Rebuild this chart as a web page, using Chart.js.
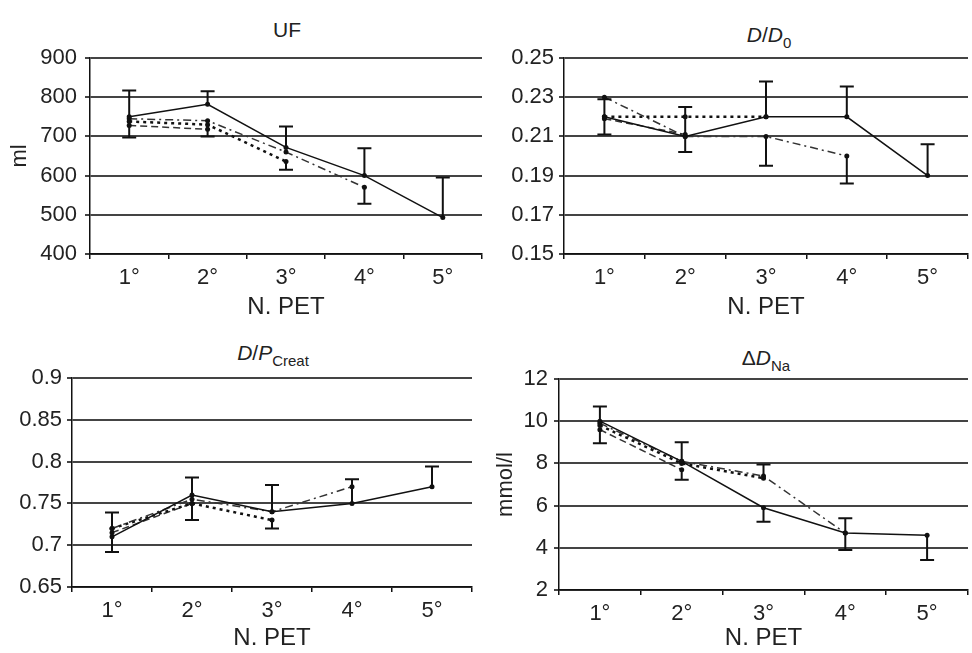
<!DOCTYPE html>
<html>
<head>
<meta charset="utf-8">
<script src="https://cdn.jsdelivr.net/npm/chart.js@4/dist/chart.umd.min.js"></script>
<style>
  body { margin: 0; width: 972px; height: 653px; overflow: hidden; background: #fff; position: relative;
         font-family: "Liberation Sans", Arial, sans-serif; color: #222; }
  canvas { position: absolute; }
  .ttl { position: absolute; font-size: 21px; line-height: 1; transform: translateX(-50%); white-space: nowrap; }
  .ttl sub { font-size: 15px; vertical-align: baseline; position: relative; top: 6px; }
</style>
</head>
<body>
<div class="ttl" style="left:287px; top:19px">UF</div>
<div class="ttl" style="left:769px; top:24px"><i>D</i>/<i>D</i><sub>0</sub></div>
<div class="ttl" style="left:273px; top:342px"><i>D</i>/<i>P</i><sub>Creat</sub></div>
<div class="ttl" style="left:766px; top:347px">&Delta;<i>D</i><sub>Na</sub></div>

<canvas id="uf" width="486" height="326" style="left:0; top:0"></canvas>
<canvas id="dd" width="486" height="326" style="left:486px; top:0"></canvas>
<canvas id="dp" width="486" height="327" style="left:0; top:330px"></canvas>
<canvas id="na" width="486" height="327" style="left:486px; top:330px"></canvas>

<script>
// x categories, same for all 4 panels
var categories = ['1°', '2°', '3°', '4°', '5°'];

// UF (ml) - groups of patients with 5, 4, 3 and 2 PETs
var ufFive  = [750, 782, 672, 600, 493];
var ufFour  = [745, 740, 660, 570, null];
var ufThree = [738, 730, 636, null, null];
var ufTwo   = [728, 718, null, null, null];
var ufTicks = [400, 500, 600, 700, 800, 900];
var ufTickLabels = ['400', '500', '600', '700', '800', '900'];
var ufErrCat  = [0, 0, 1, 1, 2, 2, 3, 3, 4];
var ufErrFrom = [750, 745, 782, 740, 672, 636, 600, 570, 493];
var ufErrTo   = [817, 697, 815, 700, 725, 615, 670, 528, 595];

// D/D0
var ddFive  = [0.22, 0.21, 0.22, 0.22, 0.19];
var ddFour  = [0.23, 0.21, 0.21, 0.20, null];
var ddThree = [0.22, 0.22, 0.22, null, null];
var ddTwo   = [0.219, 0.211, null, null, null];
var ddTicks = [0.15, 0.17, 0.19, 0.21, 0.23, 0.25];
var ddTickLabels = ['0.15', '0.17', '0.19', '0.21', '0.23', '0.25'];
var ddErrCat  = [0, 0, 1, 1, 2, 2, 3, 3, 4];
var ddErrFrom = [0.22, 0.22, 0.21, 0.21, 0.22, 0.21, 0.22, 0.20, 0.19];
var ddErrTo   = [0.229, 0.211, 0.225, 0.202, 0.238, 0.195, 0.2355, 0.186, 0.206];

// D/P creatinine
var dpFive  = [0.71, 0.76, 0.74, 0.75, 0.77];
var dpFour  = [0.72, 0.755, 0.74, 0.77, null];
var dpThree = [0.72, 0.75, 0.73, null, null];
var dpTwo   = [0.715, 0.75, null, null, null];
var dpTicks = [0.65, 0.7, 0.75, 0.8, 0.85, 0.9];
var dpTickLabels = ['0.65', '0.7', '0.75', '0.8', '0.85', '0.9'];
var dpErrCat  = [0, 0, 1, 1, 2, 2, 3, 4];
var dpErrFrom = [0.72, 0.71, 0.76, 0.75, 0.74, 0.73, 0.75, 0.77];
var dpErrTo   = [0.739, 0.692, 0.781, 0.73, 0.772, 0.72, 0.779, 0.794];

// delta D Na (mmol/l)
var naFive  = [10.0, 8.1, 5.9, 4.7, 4.6];
var naFour  = [9.9, 8.1, 7.4, 4.7, null];
var naThree = [9.8, 8.0, 7.3, null, null];
var naTwo   = [9.6, 7.7, null, null, null];
var naTicks = [2, 4, 6, 8, 10, 12];
var naTickLabels = ['2', '4', '6', '8', '10', '12'];
var naErrCat  = [0, 0, 1, 1, 2, 2, 3, 3, 4];
var naErrFrom = [10.0, 9.6, 8.1, 7.7, 7.4, 5.9, 4.7, 4.7, 4.6];
var naErrTo   = [10.7, 8.95, 9.0, 7.22, 7.95, 5.24, 5.4, 3.9, 3.42];


var FONT = '"Liberation Sans", Arial, sans-serif';

// draws the error bars (vertical line + cap at the end)
var errorBars = {
	id: 'errorBars',
	afterDatasetsDraw: function(chart, args, opts) {
		var ctx = chart.ctx;
		var x = chart.scales.x, y = chart.scales.y;
		ctx.save();
		ctx.strokeStyle = '#111';
		ctx.lineWidth = 2;
		for (var i = 0; i < opts.cat.length; i++) {
			var px = x.getPixelForValue(opts.cat[i]);
			var y0 = y.getPixelForValue(opts.from[i]);
			var y1 = y.getPixelForValue(opts.to[i]);
			ctx.beginPath();
			ctx.moveTo(px, y0);
			ctx.lineTo(px, y1);
			ctx.moveTo(px - 7, y1);
			ctx.lineTo(px + 7, y1);
			ctx.stroke();
		}
		ctx.restore();
	}
};

function series(data, dash, width, color) {
	return {
		data: data,
		borderColor: color,
		borderWidth: width,
		borderDash: dash,
		pointRadius: 2.5,
		pointBackgroundColor: '#111',
		pointBorderWidth: 0,
		tension: 0,
		spanGaps: false
	};
}

// build one panel
function makePanel(id, d, p) {
	new Chart(document.getElementById(id), {
		type: 'line',
		data: {
			labels: categories,
			datasets: [
				series(d.five, [], 1.5, '#111'),
				series(d.four, [8, 4, 2, 4], 1.5, '#333'),
				series(d.three, [3, 4], 2.5, '#111'),
				series(d.two, [7, 4], 1.5, '#333')
			]
		},
		plugins: [errorBars],
		options: {
			responsive: false,
			animation: false,
			layout: { padding: { left: 3, right: p.right, top: p.top, bottom: 0 } },
			plugins: {
				legend: { display: false },
				tooltip: { enabled: false },
				errorBars: { cat: d.errCat, from: d.errFrom, to: d.errTo }
			},
			scales: {
				x: {
					offset: true,
					grid: { offset: true, drawOnChartArea: false, color: '#111', lineWidth: 1.5, tickLength: 5 },
					border: { color: '#111', width: 1.5 },
					ticks: { color: '#222', font: { size: 22, family: FONT }, padding: 6, maxRotation: 0 },
					title: { display: true, text: 'N. PET', color: '#222', font: { size: 24, family: FONT }, padding: { top: 0, bottom: 4 } },
					afterFit: function(s) { s.height = p.xH; }
				},
				y: {
					min: d.ticks[0],
					max: d.ticks[d.ticks.length - 1],
					afterBuildTicks: function(s) {
						s.ticks = d.ticks.map(function(v) { return { value: v }; });
					},
					grid: { color: '#444', lineWidth: 2, tickLength: 5 },
					border: { color: '#111', width: 1.5 },
					ticks: {
						color: '#222',
						font: { size: 22, family: FONT },
						padding: p.tickPad,
						callback: function(v, i) { return d.tickLabels[i]; }
					},
					title: { display: !!p.yTitle, text: p.yTitle || '', color: '#222', font: { size: 22, family: FONT } },
					afterFit: function(s) { s.width = p.yW; }
				}
			}
		}
	});
}

makePanel('uf', {
	five: ufFive, four: ufFour, three: ufThree, two: ufTwo,
	ticks: ufTicks, tickLabels: ufTickLabels,
	errCat: ufErrCat, errFrom: ufErrFrom, errTo: ufErrTo
}, { top: 58, right: 2, xH: 72, yW: 87, tickPad: 8, yTitle: 'ml' });

makePanel('dd', {
	five: ddFive, four: ddFour, three: ddThree, two: ddTwo,
	ticks: ddTicks, tickLabels: ddTickLabels,
	errCat: ddErrCat, errFrom: ddErrFrom, errTo: ddErrTo
}, { top: 58, right: 0, xH: 72, yW: 75, tickPad: 5 });

makePanel('dp', {
	five: dpFive, four: dpFour, three: dpThree, two: dpTwo,
	ticks: dpTicks, tickLabels: dpTickLabels,
	errCat: dpErrCat, errFrom: dpErrFrom, errTo: dpErrTo
}, { top: 48, right: 14, xH: 70, yW: 69, tickPad: 5 });

makePanel('na', {
	five: naFive, four: naFour, three: naThree, two: naTwo,
	ticks: naTicks, tickLabels: naTickLabels,
	errCat: naErrCat, errFrom: naErrFrom, errTo: naErrTo
}, { top: 49, right: 0, xH: 67, yW: 70, tickPad: 6, yTitle: 'mmol/l' });
</script>
</body>
</html>
